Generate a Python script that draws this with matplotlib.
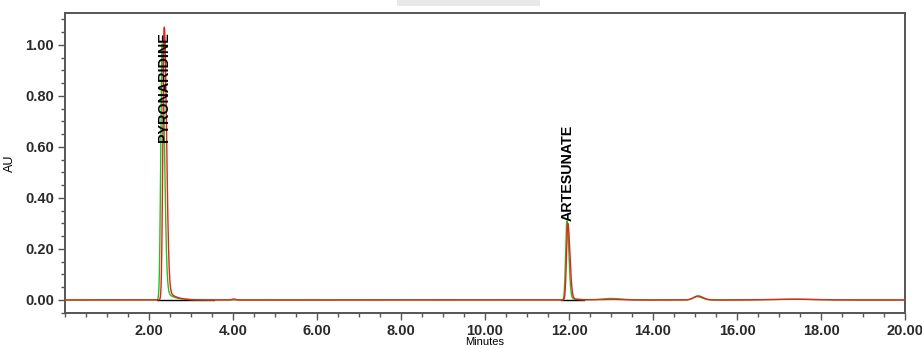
import numpy as np
import matplotlib
matplotlib.use("Agg")
import matplotlib.pyplot as plt
from matplotlib.ticker import MultipleLocator, FormatStrFormatter
from matplotlib.patches import FancyBboxPatch

plt.rcParams['font.family'] = ['Liberation Sans', 'DejaVu Sans']

# ── Peak tables (min, AU, width-left, width-right, tail) ──
red_rt = [2.36, 4.02, 11.97, 13.0, 15.07, 17.3]
red_h = [1.065, 0.004, 0.300, 0.002, 0.016, 0.003]
red_sl = [0.030, 0.04, 0.030, 0.25, 0.10, 0.5]
red_sr = [0.055, 0.04, 0.050, 0.25, 0.12, 0.5]
red_tail = [0.060, 0.0, 0.010, 0.0, 0.0, 0.0]

green_rt = [2.31, 11.95, 13.0, 15.05, 17.3]
green_h = [1.00, 0.310, 0.006, 0.013, 0.003]
green_sl = [0.030, 0.030, 0.22, 0.10, 0.5]
green_sr = [0.055, 0.045, 0.25, 0.12, 0.5]
green_tail = [0.055, 0.008, 0.0, 0.0, 0.0]

# integration baselines (black)
base_start = [2.20, 11.80]
base_end = [3.55, 12.35]

peak_names = ['PYRONARIDINE', 'ARTESUNATE']
peak_label_t = [2.36, 11.97]
peak_label_y = [0.62, 0.31]


def trace(t, rts, hs, sls, srs, tails):
    y = np.zeros_like(t)
    for rt, h, sl, sr, tl in zip(rts, hs, sls, srs, tails):
        s = np.where(t < rt, sl, sr)
        y += h * np.exp(-0.5 * ((t - rt) / s) ** 2)
        if tl > 0:
            d = np.clip(t - rt, 0, None)
            y += np.where(t >= rt, tl * (1 - np.exp(-d / 0.03)) * np.exp(-d / 0.18), 0)
    return y


t = np.linspace(0, 20, 8000)
y_red = trace(t, red_rt, red_h, red_sl, red_sr, red_tail)
y_green = trace(t, green_rt, green_h, green_sl, green_sr, green_tail)

fig = plt.figure(figsize=(9.22, 3.48), dpi=100)
ax = fig.add_axes([0.0705, 0.1006, 0.9111, 0.862])

for s, e in zip(base_start, base_end):
    ax.plot([s, e], [0, 0], color='black', lw=1.0, zorder=2)
ax.plot(t, y_green, color='#22c022', lw=1.0, zorder=3)
ax.plot(t, y_red, color='#e8211a', lw=1.0, zorder=4)

for name, x, y in zip(peak_names, peak_label_t, peak_label_y):
    ax.text(x, y, name, rotation=90, ha='center', va='bottom',
            fontsize=10.3, fontweight='bold', color='black', zorder=5)

ax.set_xlim(0, 20)
ax.set_ylim(-0.051, 1.125)
ax.xaxis.set_minor_locator(MultipleLocator(0.5))
ax.yaxis.set_major_locator(MultipleLocator(0.2))
ax.yaxis.set_minor_locator(MultipleLocator(0.05))
ax.xaxis.set_major_formatter(FormatStrFormatter('%.2f'))
ax.yaxis.set_major_formatter(FormatStrFormatter('%.2f'))
ax.set_xticks(np.arange(2, 20.1, 2))
ax.tick_params(which='major', direction='out', length=5, width=1, color='#555555',
               labelsize=10.5, labelcolor='#2a2a2a', pad=3)
ax.tick_params(which='minor', direction='out', length=3, width=1, color='#555555')
for lab in ax.get_xticklabels() + ax.get_yticklabels():
    lab.set_fontweight('bold')
for sp in ax.spines.values():
    sp.set_color('#555555')
    sp.set_linewidth(1.4)

ax.set_xlabel('Minutes', fontsize=8, labelpad=0)
ax.xaxis.set_label_coords(0.5, -0.08)
ax.set_ylabel('AU', fontsize=9)
ax.yaxis.set_label_coords(-0.058, 0.5)

# faint grey artefact box at the top
fig.patches.append(FancyBboxPatch((397 / 922, 1 - 6 / 348), 143 / 922, 6 / 348,
                                  boxstyle='square,pad=0', transform=fig.transFigure,
                                  fc='#e8e8e8', ec='none'))

fig.savefig('out.png', dpi=100, facecolor='white')
